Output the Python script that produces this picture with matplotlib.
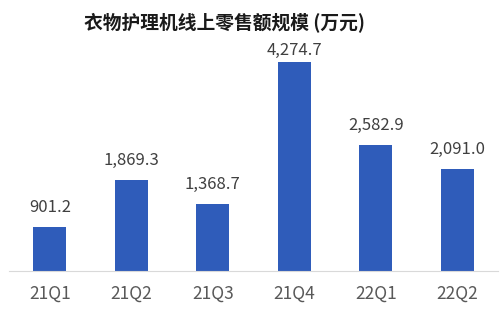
import matplotlib
matplotlib.use("Agg")
import matplotlib.pyplot as plt

plt.rcParams['font.family'] = ['Noto Sans CJK SC', 'DejaVu Sans']

quarters = ["21Q1", "21Q2", "21Q3", "21Q4", "22Q1", "22Q2"]
sales = [901.2, 1869.3, 1368.7, 4274.7, 2582.9, 2091.0]

fig = plt.figure(figsize=(5, 3.12), dpi=100)
ax = fig.add_axes([0.018, 1 - 271 / 312, 0.978, 231 / 312])

ymax = 4724
bars = ax.bar(range(len(quarters)), sales, width=0.4, color="#2F5CBA")
for b, v in zip(bars, sales):
    # labels sit ~20px above the bar, but get squeezed under the title for the tallest one
    y = min(v + 400, ymax * 0.955)
    ax.text(b.get_x() + b.get_width() / 2, y, f"{v:,.1f}",
            ha="center", va="center", fontsize=12, color="#404040")

ax.set_xlim(-0.5, len(quarters) - 0.5)
ax.set_ylim(0, ymax)
ax.set_xticks(range(len(quarters)))
ax.set_xticklabels(quarters, fontsize=12.5, color="#595959")
ax.tick_params(axis="x", length=0, pad=10)
ax.set_yticks([])
for s in ["top", "left", "right"]:
    ax.spines[s].set_visible(False)
ax.spines["bottom"].set_color("#d9d9d9")

fig.text(0.448, 0.93, "衣物护理机线上零售额规模 (万元)", ha="center", va="center",
         fontsize=13.5, fontweight="bold", color="#1a1a1a")

fig.savefig("out.png", dpi=100)
